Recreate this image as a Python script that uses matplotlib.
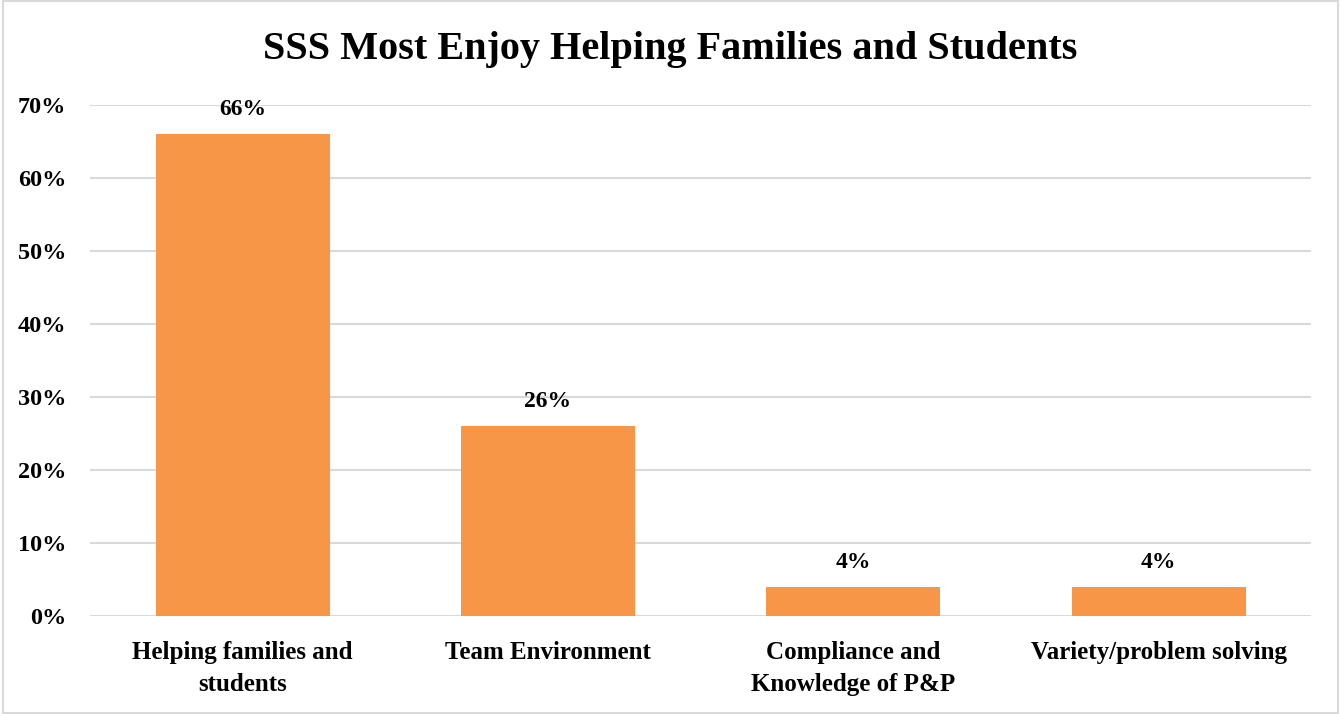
import matplotlib
matplotlib.use("Agg")
import matplotlib.pyplot as plt
from matplotlib.patches import Rectangle
from matplotlib.ticker import FuncFormatter

# survey results
categories = ["Helping families and\nstudents", "Team Environment",
              "Compliance and\nKnowledge of P&P", "Variety/problem solving"]
shares = [0.66, 0.26, 0.04, 0.04]
yticks = [0, 0.1, 0.2, 0.3, 0.4, 0.5, 0.6, 0.7]

plt.rcParams['font.family'] = ['Liberation Serif', 'DejaVu Serif']
plt.rcParams['font.weight'] = 'bold'

fig = plt.figure(figsize=(13.41, 7.14), dpi=100)
ax = fig.add_axes([0.0671, 0.1373, 0.9109, 0.7157])

x = range(len(categories))
bars = ax.bar(x, shares, width=0.57, color="#F79646", zorder=3)

for b, v in zip(bars, shares):
    ax.annotate(f"{v*100:.0f}%", (b.get_x() + b.get_width()/2, v),
                xytext=(0, 10), textcoords="offset points",
                ha="center", va="bottom", fontsize=17, fontweight="bold")

ax.set_xlim(-0.5, len(categories) - 0.5)
ax.set_ylim(0, 0.7)
ax.set_yticks(yticks)
ax.yaxis.set_major_formatter(FuncFormatter(lambda v, p: f"{v*100:.0f}%"))
ax.set_xticks(list(x))
ax.set_xticklabels(categories, fontsize=18, fontweight="bold", linespacing=1.5)
ax.tick_params(axis="both", length=0)
ax.tick_params(axis="y", labelsize=17.5, pad=17)
ax.tick_params(axis="x", pad=18)
for lab in ax.get_yticklabels():
    lab.set_fontweight("bold")

ax.grid(axis="y", color="#D9D9D9", linewidth=1.5, zorder=0)
for s in ax.spines.values():
    s.set_visible(False)

fig.suptitle("SSS Most Enjoy Helping Families and Students", y=0.957,
             fontsize=29, fontweight="bold")

# thin frame around the whole chart
fig.patches.append(Rectangle((0.002, 0.002), 0.996, 0.996, transform=fig.transFigure,
                             fill=False, edgecolor="#D9D9D9", linewidth=1.5))

fig.savefig("out.png", dpi=100)
